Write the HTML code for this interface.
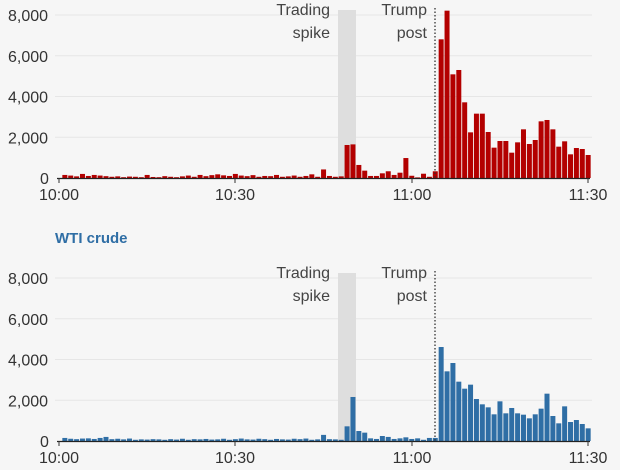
<!DOCTYPE html>
<html><head><meta charset="utf-8"><style>
html,body{margin:0;padding:0;background:#f6f6f6;}
svg{display:block;font-family:"Liberation Sans",sans-serif;}
</style></head><body>
<svg id="s" width="620" height="470" viewBox="0 0 620 470" xmlns="http://www.w3.org/2000/svg">
<text x="55" y="243" font-size="15" font-weight="bold" fill="#2f6ea5" font-family="Liberation Sans, sans-serif">WTI crude</text>
</svg>
<script>
(function(){
var s=document.getElementById('s');
function el(t,a,txt){var e=document.createElementNS('http://www.w3.org/2000/svg',t);for(var k in a)e.setAttribute(k,a[k]);if(txt)e.textContent=txt;s.appendChild(e);return e;}
var early=[150,120,80,200,100,150,120,90,60,80,40,70,60,40,150,50,40,90,60,40,80,120,60,150,90,140,180,130,100,200,120,90,140,60,100,90,150,60,80,120,60,100,180,60,420,100,60,80];
var crude1=early.concat([1620,1650,640,360,100,100,230,330,150,260,980,110,30,210,60,330,
6806,8213,5088,5301,3714,2241,3158,3158,2258,1489,1816,1816,1243,1750,2389,1669,1865,2781,2847,2389,1538,1800,1162,1472,1423,1129]);
var bot=[150,110,90,120,130,100,150,200,90,110,80,120,60,80,70,90,80,60,90,70,110,60,90,80,100,70,80,110,60,90,120,80,70,110,90,60,100,80,70,110,90,120,60,80,300,90,80,60,
720,2160,490,410,130,100,245,200,100,130,180,100,130,60,150,150,
4613,3419,3828,2912,2568,2765,2061,1800,1652,1309,1947,1358,1620,1358,1292,1112,1309,1587,2323,1227,867,1701,932,1030,834,621];
function chart(z,data,col,anY){
  var sc=163/8000;
  for(var g=2000;g<=8000;g+=2000){el('line',{x1:55,x2:592,y1:z-g*sc,y2:z-g*sc,stroke:'#e6e6e6','stroke-width':1});}
  el('rect',{x:338,y:z-168,width:18,height:168,fill:'#dedede'});
  for(var g=0;g<=8000;g+=2000){el('text',{x:g?8:40,y:z-g*sc+6,'font-size':16,fill:'#333'},g?(g/1000)+',000':'0');}
  for(var i=1;i<=90;i++){var v=data[i-1]||0;var h=v*sc;var x=59+(i-0.5)*5.88;el('rect',{x:x+0.4,y:z-h,width:5.0,height:h,fill:col});}
  el('line',{x1:57,x2:590,y1:z+0.5,y2:z+0.5,stroke:'#222','stroke-width':1.2});
  [[59,'10:00'],[235,'10:30'],[412,'11:00'],[588,'11:30']].forEach(function(t){
    el('line',{x1:t[0],x2:t[0],y1:z,y2:z+5,stroke:'#333'});
    el('text',{x:t[0],y:z+22,'font-size':16,fill:'#333','text-anchor':'middle'},t[1]);});
  el('line',{x1:435,x2:435,y1:z-170,y2:z,stroke:'#333','stroke-width':1.3,'stroke-dasharray':'1.5,2'});
  el('text',{x:330,y:anY,'font-size':16,fill:'#444','text-anchor':'end'},'Trading');
  el('text',{x:330,y:anY+23,'font-size':16,fill:'#444','text-anchor':'end'},'spike');
  el('text',{x:427,y:anY,'font-size':16,fill:'#444','text-anchor':'end'},'Trump');
  el('text',{x:427,y:anY+23,'font-size':16,fill:'#444','text-anchor':'end'},'post');
}
chart(178,crude1,'#b30000',15);
chart(441,bot,'#2f6ea5',278);
})();
</script>
</body></html>
